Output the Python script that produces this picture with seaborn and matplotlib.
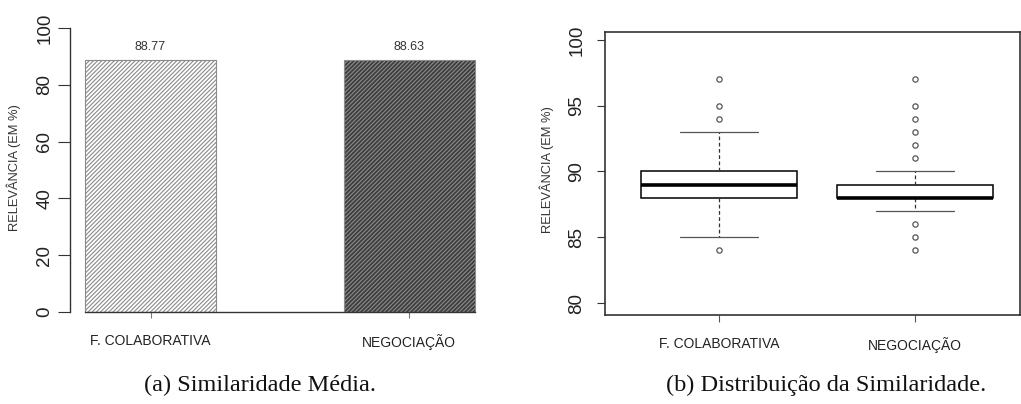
import numpy as np
import pandas as pd
import matplotlib
matplotlib.use("Agg")
import matplotlib.pyplot as plt
from matplotlib import font_manager
import seaborn as sns

# ---------------- data ----------------
categories = ["F. COLABORATIVA", "NEGOCIAÇÃO"]
mean_values = [88.77, 88.63]
mean_labels = ["88.77", "88.63"]

# observed similarity values (distinct values and how often each occurs)
colab_values = [84, 85, 86, 87, 88, 89, 90, 91, 92, 93, 94, 95, 97]
colab_counts = [1, 1, 2, 3, 10, 12, 10, 3, 2, 1, 1, 1, 1]
negoc_values = [84, 85, 86, 87, 88, 89, 90, 91, 92, 93, 94, 95, 97]
negoc_counts = [1, 1, 1, 3, 20, 10, 3, 1, 1, 1, 1, 1, 1]

left_yticks = [0, 20, 40, 60, 80, 100]
right_yticks = [80, 85, 90, 95, 100]

ylabel = "RELEVÂNCIA (EM %)"
caption_a = "(a) Similaridade Média."
caption_b = "(b) Distribuição da Similaridade."

# ---------------- style ----------------
sns.set_theme(style="white")
avail = {f.name for f in font_manager.fontManager.ttflist}
narrow = "Liberation Sans Narrow" if "Liberation Sans Narrow" in avail else "Liberation Sans"
plt.rcParams["font.family"] = ["Liberation Sans", "DejaVu Sans"]
plt.rcParams["hatch.linewidth"] = 0.8

W, H = 1021, 404
fig = plt.figure(figsize=(W / 100, H / 100), dpi=100)
fig.patch.set_facecolor("white")

def fx(px):
    return px / W

def fy(px):
    return (H - px) / H

# ---------------- left: bar chart ----------------
axL = fig.add_axes([fx(70), fy(312), fx(487) - fx(70), (312 - 16.6) / H])
df_mean = pd.DataFrame({"grupo": categories, "valor": mean_values})
sns.barplot(data=df_mean, x="grupo", y="valor", color="white", width=0.506,
            errorbar=None, ax=axL, saturation=1)
styles = [("white", "#8a8a8a"), ("#3e3e3e", "#8c8c8c")]
for patch, (fc, ec) in zip(axL.patches, styles):
    patch.set_facecolor(fc)
    patch.set_edgecolor(ec)
    patch.set_hatch("////////")
    patch.set_linewidth(0.8)
for cont in axL.containers:
    axL.bar_label(cont, labels=mean_labels, padding=5, fontsize=9, color="#333333")

axL.set_xlim(-0.311, 1.30)
axL.set_ylim(0, 104)
axL.set_yticks(left_yticks)
axL.set_yticklabels([str(v) for v in left_yticks], rotation=90, va="center")
axL.spines["top"].set_visible(False)
axL.spines["right"].set_visible(False)
axL.spines["left"].set_bounds(0, 100)
axL.spines["bottom"].set_bounds(-0.253, 1.253)
for s in ("left", "bottom"):
    axL.spines[s].set_color("#333333")
    axL.spines[s].set_linewidth(1.0)
axL.tick_params(axis="y", length=8.5, width=0.8, pad=3.5, labelsize=13.5,
                color="#333333", labelcolor="#222222", left=True)
axL.tick_params(axis="x", length=4.5, width=0.8, pad=11, color="#777777",
                labelcolor="#222222", bottom=True)
for t in axL.get_xticklabels():
    t.set_fontfamily(narrow)
    t.set_fontsize(10)
axL.set_xlabel("")
axL.set_ylabel(ylabel, fontsize=9.3, color="#333333", fontfamily=narrow)
axL.yaxis.set_label_coords((21 - 70) / 417, (312 - 168) / 295.4)

# ---------------- right: boxplot ----------------
axR = fig.add_axes([fx(605), fy(315), fx(1020) - fx(605), (315 - 32) / H])
df_dist = pd.DataFrame({
    "grupo": [categories[0]] * sum(colab_counts) + [categories[1]] * sum(negoc_counts),
    "valor": np.concatenate([np.repeat(colab_values, colab_counts),
                             np.repeat(negoc_values, negoc_counts)]),
})
sns.boxplot(data=df_dist, x="grupo", y="valor", order=categories, color="white",
            linecolor="black", linewidth=1.1, width=0.8, whis=1.5, ax=axR,
            saturation=1,
            whiskerprops=dict(linestyle=(0, (3, 2)), linewidth=0.9, color="#333333"),
            capprops=dict(linewidth=0.9, color="#555555"),
            medianprops=dict(linewidth=2.6, color="black"),
            flierprops=dict(marker="o", markersize=3.8, markerfacecolor="none",
                            markeredgecolor="#555555", markeredgewidth=0.9))
axR.set_xlim(-0.582, 1.536)
axR.set_ylim(79.09, 100.6)
axR.set_yticks(right_yticks)
axR.set_yticklabels([str(v) for v in right_yticks], rotation=90, va="center")
for s in axR.spines.values():
    s.set_visible(True)
    s.set_color("#333333")
    s.set_linewidth(1.2)
axR.tick_params(axis="y", length=6, width=0.8, pad=8, labelsize=13.5,
                color="#333333", labelcolor="#222222", left=True)
axR.tick_params(axis="x", length=5, width=0.8, pad=11, color="#555555",
                labelcolor="#222222", bottom=True)
for t in axR.get_xticklabels():
    t.set_fontfamily(narrow)
    t.set_fontsize(10)
axR.set_xlabel("")
axR.set_ylabel(ylabel, fontsize=9.3, color="#333333", fontfamily=narrow)
axR.yaxis.set_label_coords((554 - 605) / 415, (315 - 170) / 283)

# ---------------- captions ----------------
fig.text(fx(260), fy(385), caption_a, ha="center", va="center",
         fontsize=17.5, fontfamily=["Liberation Serif", "DejaVu Serif"], color="#111111")
fig.text(fx(826), fy(385), caption_b, ha="center", va="center",
         fontsize=17.5, fontfamily=["Liberation Serif", "DejaVu Serif"], color="#111111")

fig.savefig("out.png", dpi=100, facecolor="white")
